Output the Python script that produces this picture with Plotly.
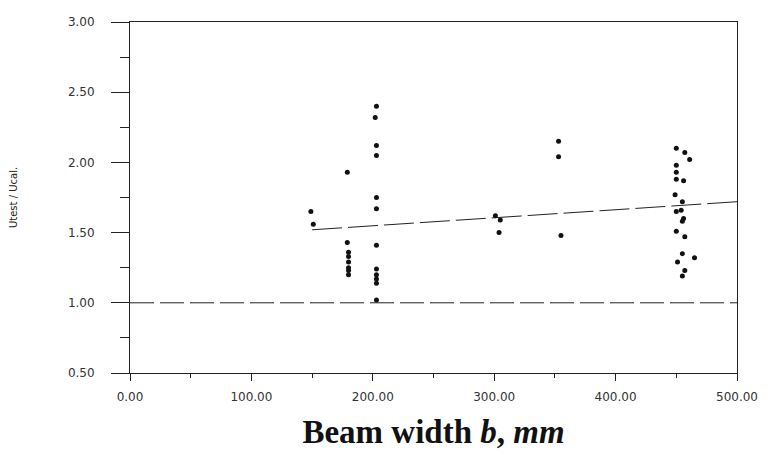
import plotly.graph_objects as go

# Beam width b (mm) and Utest/Ucal ratio
beam_width = [
    149, 151,
    179, 179, 180, 180, 180, 180, 180, 180,
    203, 202, 203, 203, 203, 203, 203, 203, 203, 203, 203, 203,
    301, 305, 304,
    353, 353, 355,
    450, 457, 461, 450, 450, 450, 456, 449, 455, 450, 454, 456, 455, 450, 457, 455, 465, 451, 457, 455,
]
ratio = [
    1.65, 1.56,
    1.93, 1.43, 1.36, 1.33, 1.29, 1.25, 1.23, 1.20,
    2.40, 2.32, 2.12, 2.05, 1.75, 1.67, 1.41, 1.24, 1.20, 1.17, 1.14, 1.02,
    1.62, 1.59, 1.50,
    2.15, 2.04, 1.48,
    2.10, 2.07, 2.02, 1.98, 1.93, 1.88, 1.87, 1.77, 1.72, 1.65, 1.66, 1.60, 1.58, 1.51, 1.47, 1.35, 1.32, 1.29, 1.23, 1.19,
]

# Reference line (ratio = 1) and fitted trend line
ref_x = [0, 500]
ref_y = [1.0, 1.0]
trend_x = [150, 500]
trend_y = [1.52, 1.72]

x_ticks = [0, 100, 200, 300, 400, 500]
y_ticks = [0.5, 1.0, 1.5, 2.0, 2.5, 3.0]

fig = go.Figure()
fig.add_trace(go.Scatter(x=ref_x, y=ref_y, mode="lines",
                         line=dict(color="#222", width=1, dash="24px,6px"),
                         hoverinfo="skip", showlegend=False))
fig.add_trace(go.Scatter(x=trend_x, y=trend_y, mode="lines",
                         line=dict(color="#222", width=1, dash="30px,6px"),
                         hoverinfo="skip", showlegend=False))
fig.add_trace(go.Scatter(x=beam_width, y=ratio, mode="markers",
                         marker=dict(color="#111", size=5, symbol="circle"),
                         showlegend=False))

tick_font = dict(family="DejaVu Sans", size=12, color="#333")
fig.update_layout(
    width=770, height=459,
    margin=dict(l=130, r=25, t=22, b=86),
    paper_bgcolor="white", plot_bgcolor="white",
    xaxis=dict(
        range=[0, 500], tickvals=x_ticks, tickformat=".2f",
        showgrid=False, zeroline=False,
        showline=True, linecolor="#222", linewidth=1, mirror=True,
        ticks="outside", ticklen=7, tickcolor="#222",
        minor=dict(dtick=50, ticks="outside", ticklen=4, tickcolor="#222"),
        tickfont=tick_font, ticklabelstandoff=6,
        title=dict(text="<b>Beam width <i>b</i>, <i>mm</i></b>",
                   font=dict(family="Liberation Serif", size=33, color="#111"),
                   standoff=16),
    ),
    yaxis=dict(
        range=[0.5, 3.0], tickvals=y_ticks, tickformat=".2f",
        showgrid=False, zeroline=False,
        showline=True, linecolor="#222", linewidth=1, mirror=True,
        ticks="outside", ticklen=18, tickcolor="#222",
        minor=dict(dtick=0.25, ticks="outside", ticklen=9, tickcolor="#222"),
        tickfont=tick_font, ticklabelstandoff=14,
        title=dict(text="Utest / Ucal.",
                   font=dict(family="DejaVu Sans", size=10, color="#222"),
                   standoff=48),
    ),
)

fig.write_html("out.html")
